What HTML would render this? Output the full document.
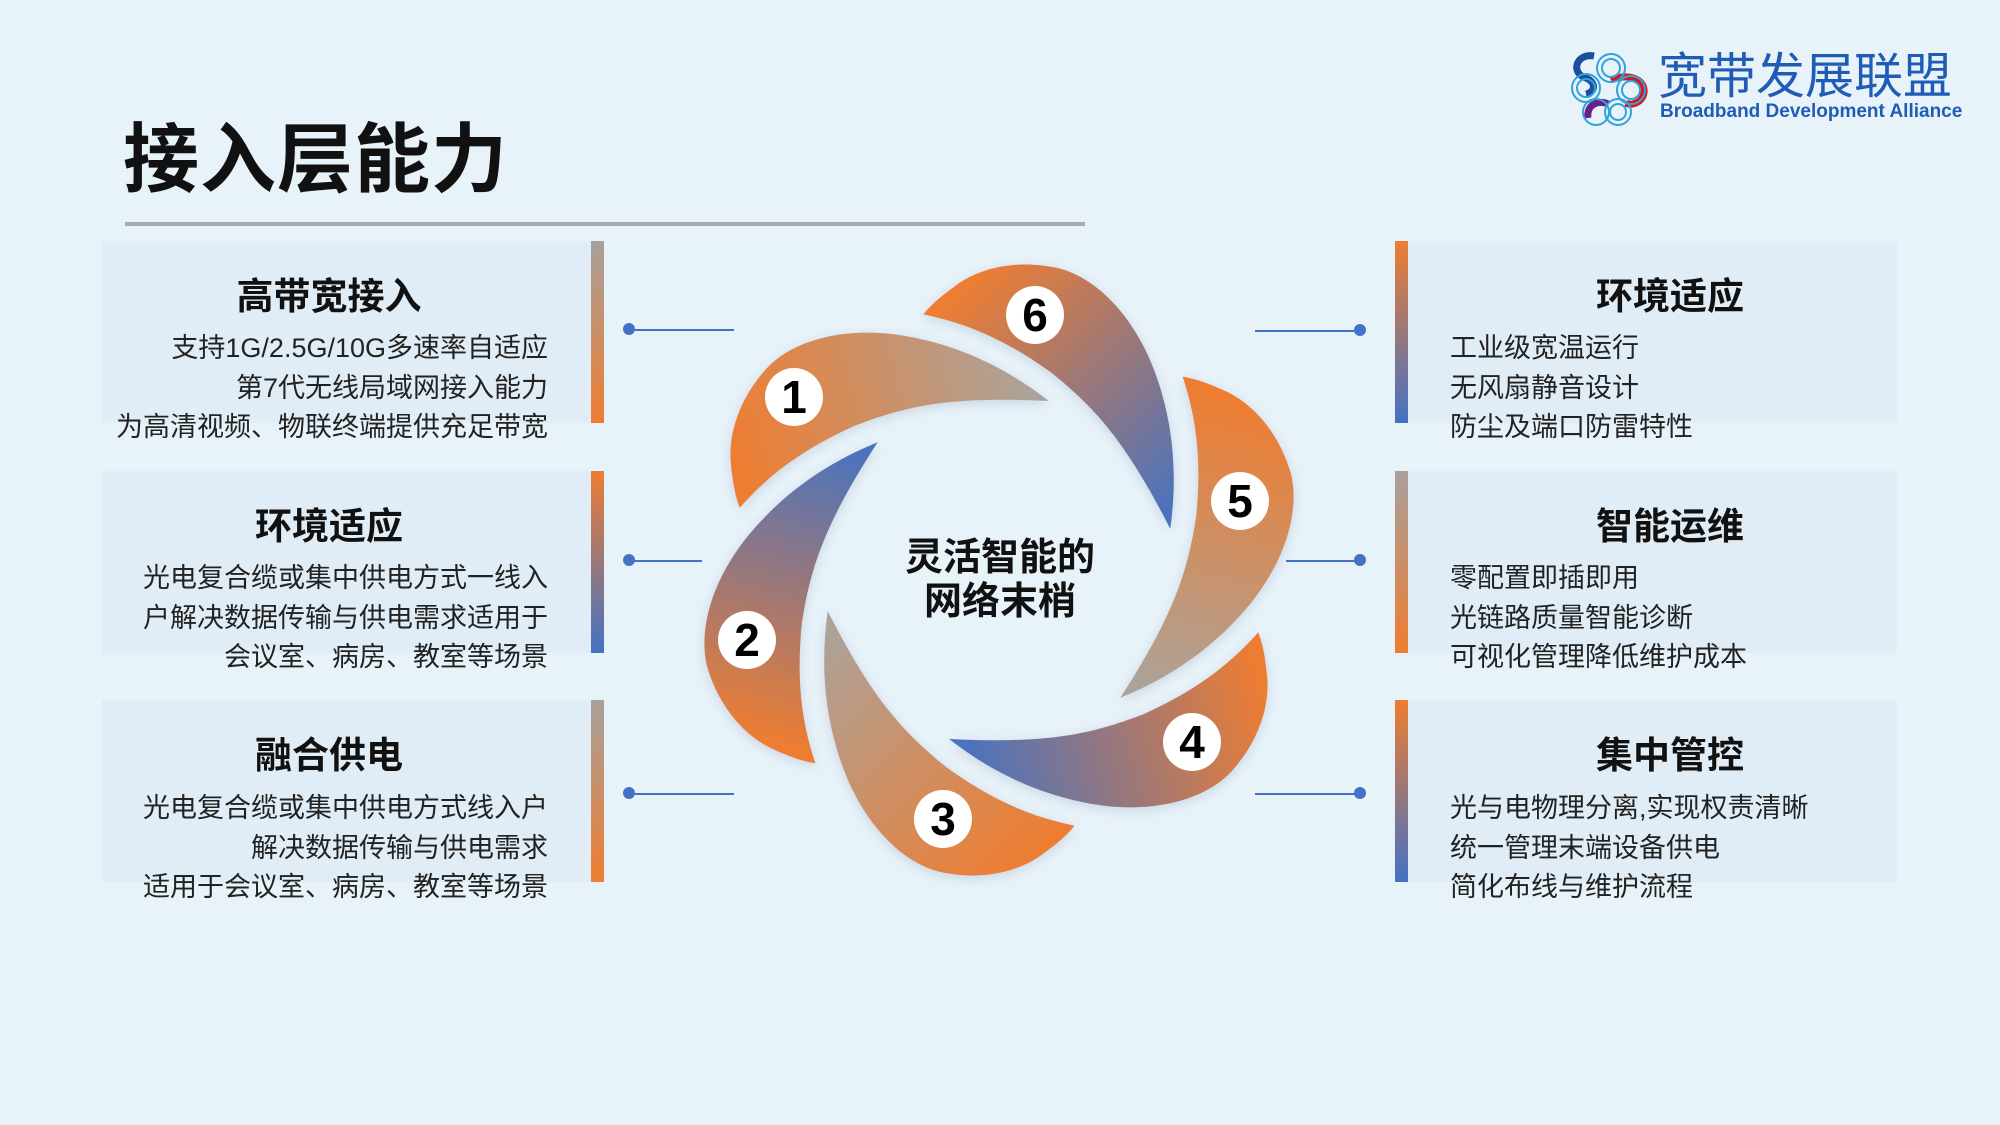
<!DOCTYPE html>
<html><head><meta charset="utf-8"><style>
html,body{margin:0;padding:0}
body{width:2000px;height:1125px;background:#e8f2f9;position:relative;overflow:hidden;font-family:"Liberation Sans","Noto Sans CJK SC",sans-serif;color:#1a1a1a}
.abs{position:absolute}
.title{left:123px;top:98px;font-size:76px;font-weight:bold;letter-spacing:1px;color:#111}
.rule{left:125px;top:222px;width:960px;height:4px;background:#a3abb3}
.card{position:absolute;width:491px;height:182px;background:#e1edf6}
.bar{position:absolute;width:13px;height:182px}
.h{position:absolute;font-size:37px;font-weight:bold;color:#111;text-align:center;width:300px}
.t{position:absolute;font-size:27px;line-height:39.5px;color:#222;white-space:nowrap}
.ln{position:absolute;height:2px;background:#4472c4}
.dot{position:absolute;width:12px;height:12px;border-radius:50%;background:#4472c4}
</style></head><body>
<div class="abs title">接入层能力</div>
<div class="abs rule"></div>

<!-- logo -->
<svg class="abs" style="left:1566px;top:48px" width="90" height="80" viewBox="0 0 90 80">
<g fill="none" stroke-width="7">
<path d="M28 8 C10 5 4 25 20 30 C30 34 30 44 20 46" stroke="#1a4f9e"/>
<path d="M45 32 C60 25 80 30 78 45 C76 55 65 58 60 55" stroke="#d9161e"/>
<path d="M22 70 C20 55 35 52 42 56" stroke="#6b1f8a"/>
</g>
<g fill="none" stroke="#2ea3dc" stroke-width="2">
<circle cx="45" cy="20" r="14"/><circle cx="45" cy="20" r="9"/>
<circle cx="20" cy="40" r="14"/><circle cx="20" cy="40" r="9"/>
<circle cx="65" cy="42" r="14"/><circle cx="65" cy="42" r="9"/>
<circle cx="30" cy="64" r="13"/><circle cx="52" cy="64" r="13"/><circle cx="52" cy="64" r="8"/>
</g>
</svg>
<div class="abs" style="left:1658px;top:47px;font-size:49px;color:#1f5cb6;letter-spacing:0px;line-height:60px">宽带发展联盟</div>
<div class="abs" style="left:1660px;top:101px;font-size:19px;color:#1f5cb6;font-weight:bold;line-height:22px">Broadband Development Alliance</div>

<!-- left cards -->
<div class="card" style="left:102px;top:241px"></div>
<div class="bar" style="left:591px;top:241px;background:linear-gradient(#a7a09c,#ee7d31)"></div>
<div class="h" style="left:179px;top:266px">高带宽接入</div>
<div class="t" style="right:1452px;top:329px;text-align:right">支持1G/2.5G/10G多速率自适应<br>第7代无线局域网接入能力<br>为高清视频、物联终端提供充足带宽</div>

<div class="card" style="left:102px;top:471px"></div>
<div class="bar" style="left:591px;top:471px;background:linear-gradient(#ee7d31,#4472c4)"></div>
<div class="h" style="left:179px;top:496px">环境适应</div>
<div class="t" style="right:1452px;top:559px;text-align:right">光电复合缆或集中供电方式一线入<br>户解决数据传输与供电需求适用于<br>会议室、病房、教室等场景</div>

<div class="card" style="left:102px;top:700px"></div>
<div class="bar" style="left:591px;top:700px;background:linear-gradient(#a7a09c,#ee7d31)"></div>
<div class="h" style="left:179px;top:725px">融合供电</div>
<div class="t" style="right:1452px;top:789px;text-align:right">光电复合缆或集中供电方式线入户<br>解决数据传输与供电需求<br>适用于会议室、病房、教室等场景</div>

<!-- right cards -->
<div class="card" style="left:1395px;top:241px;width:502px"></div>
<div class="bar" style="left:1395px;top:241px;background:linear-gradient(#ee7d31,#4472c4)"></div>
<div class="h" style="left:1520px;top:266px">环境适应</div>
<div class="t" style="left:1450px;top:329px">工业级宽温运行<br>无风扇静音设计<br>防尘及端口防雷特性</div>

<div class="card" style="left:1395px;top:471px;width:502px"></div>
<div class="bar" style="left:1395px;top:471px;background:linear-gradient(#a7a09c,#ee7d31)"></div>
<div class="h" style="left:1520px;top:496px">智能运维</div>
<div class="t" style="left:1450px;top:559px">零配置即插即用<br>光链路质量智能诊断<br>可视化管理降低维护成本</div>

<div class="card" style="left:1395px;top:700px;width:502px"></div>
<div class="bar" style="left:1395px;top:700px;background:linear-gradient(#ee7d31,#4472c4)"></div>
<div class="h" style="left:1520px;top:725px">集中管控</div>
<div class="t" style="left:1450px;top:789px">光与电物理分离,实现权责清晰<br>统一管理末端设备供电<br>简化布线与维护流程</div>

<!-- connectors -->
<div class="dot" style="left:623px;top:323px"></div><div class="ln" style="left:629px;top:329px;width:105px"></div>
<div class="dot" style="left:623px;top:554px"></div><div class="ln" style="left:629px;top:560px;width:73px"></div>
<div class="dot" style="left:623px;top:787px"></div><div class="ln" style="left:629px;top:793px;width:105px"></div>
<div class="dot" style="left:1354px;top:324px"></div><div class="ln" style="left:1255px;top:330px;width:105px"></div>
<div class="dot" style="left:1354px;top:554px"></div><div class="ln" style="left:1286px;top:560px;width:74px"></div>
<div class="dot" style="left:1354px;top:787px"></div><div class="ln" style="left:1255px;top:793px;width:105px"></div>

<!-- flower -->
<svg class="abs" style="left:0;top:0" width="2000" height="1125" viewBox="0 0 2000 1125">
<defs>
<linearGradient id="gt" gradientUnits="userSpaceOnUse" x1="730" y1="480" x2="1051" y2="394"><stop offset="0" stop-color="#ee7d31"/><stop offset="1" stop-color="#a9a49e"/></linearGradient>
<linearGradient id="gb" gradientUnits="userSpaceOnUse" x1="730" y1="480" x2="1051" y2="394"><stop offset="0" stop-color="#ee7d31"/><stop offset="1" stop-color="#4472c4"/></linearGradient>
<filter id="sh" x="-20%" y="-20%" width="140%" height="140%"><feDropShadow dx="0" dy="3" stdDeviation="6" flood-color="#8aa0b8" flood-opacity="0.35"/></filter>
<path id="p" d="M1051 394 C1010 362 960 336 900 326 C840 316 785 330 757 360 C728 392 716 430 720 462 C722 482 725 495 729 505 C760 470 795 444 848 420 C905 398 950 389 1051 394 Z"/>
</defs>
<g filter="url(#sh)" transform="translate(999 570) scale(0.96) translate(-999 -570)">
<use href="#p" fill="url(#gt)"/>
<use href="#p" fill="url(#gb)" transform="rotate(60 999 570)"/>
<use href="#p" fill="url(#gt)" transform="rotate(120 999 570)"/>
<use href="#p" fill="url(#gb)" transform="rotate(180 999 570)"/>
<use href="#p" fill="url(#gt)" transform="rotate(240 999 570)"/>
<use href="#p" fill="url(#gb)" transform="rotate(300 999 570)"/>
</g>
<g fill="#fff"><circle cx="794" cy="397" r="29"/><circle cx="1035" cy="315" r="29"/><circle cx="1240" cy="501" r="29"/><circle cx="1192" cy="742" r="29"/><circle cx="943" cy="819" r="29"/><circle cx="747" cy="640" r="29"/></g>
<g font-family="Liberation Sans,sans-serif" font-weight="bold" font-size="46" text-anchor="middle" fill="#000">
<text x="794" y="413">1</text><text x="1035" y="331">6</text><text x="1240" y="517">5</text><text x="1192" y="758">4</text><text x="943" y="835">3</text><text x="747" y="656">2</text>
</g>
<g font-family="Liberation Sans,Noto Sans CJK SC,sans-serif" font-weight="bold" font-size="38" text-anchor="middle" fill="#111">
<text x="1000" y="570">灵活智能的</text><text x="1000" y="614">网络末梢</text>
</g>
</svg>
</body></html>
